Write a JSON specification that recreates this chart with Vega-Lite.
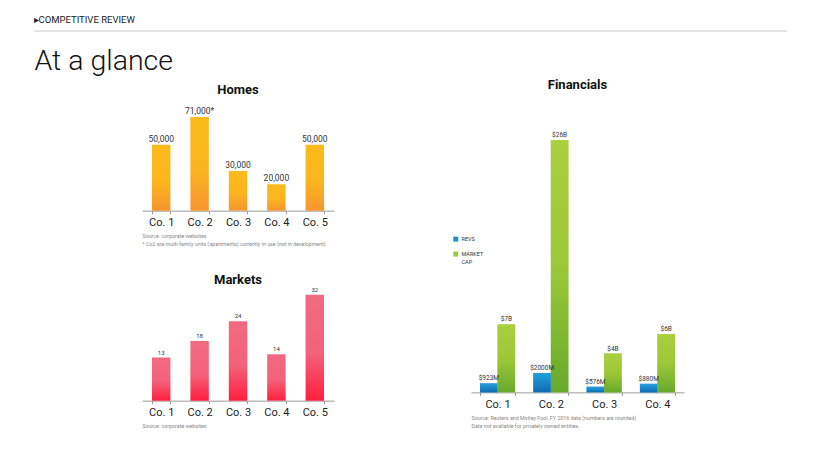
{
  "$schema": "https://vega.github.io/schema/vega-lite/v6.json",
  "background": "white",
  "padding": {"top": 14, "left": 33, "right": 0, "bottom": 0},
  "config": {
    "font": "Roboto",
    "view": {"stroke": null},
    "title": {"font": "Roboto", "color": "#111111"},
    "axis": {"grid": false},
    "axisX": {
      "domainColor": "#9a9a9a",
      "tickColor": "#9a9a9a",
      "tickSize": 3,
      "tickBand": "extent",
      "labelFontSize": 11,
      "labelColor": "#222222",
      "labelPadding": 3,
      "labelAngle": 0,
      "labelFont": "Roboto",
      "titleFont": "Roboto",
      "titleFontSize": 5.3,
      "titleFontWeight": "normal",
      "titleColor": "#888888",
      "titleAnchor": "start",
      "titlePadding": 6,
      "titleLineHeight": 8
    }
  },
  "datasets": {
    "homes": [
      {"co": "Co. 1", "v": 50000, "label": "50,000"},
      {"co": "Co. 2", "v": 71000, "label": "71,000*"},
      {"co": "Co. 3", "v": 30000, "label": "30,000"},
      {"co": "Co. 4", "v": 20000, "label": "20,000"},
      {"co": "Co. 5", "v": 50000, "label": "50,000"}
    ],
    "markets": [
      {"co": "Co. 1", "v": 13},
      {"co": "Co. 2", "v": 18},
      {"co": "Co. 3", "v": 24},
      {"co": "Co. 4", "v": 14},
      {"co": "Co. 5", "v": 32}
    ],
    "fin": [
      {"co": "Co. 1", "series": "REVS", "value": 0.923, "label": "$923M"},
      {"co": "Co. 1", "series": "MARKET CAP", "value": 7, "label": "$7B"},
      {"co": "Co. 2", "series": "REVS", "value": 2.0, "label": "$2000M"},
      {"co": "Co. 2", "series": "MARKET CAP", "value": 26, "label": "$26B"},
      {"co": "Co. 3", "series": "REVS", "value": 0.576, "label": "$576M"},
      {"co": "Co. 3", "series": "MARKET CAP", "value": 4, "label": "$4B"},
      {"co": "Co. 4", "series": "REVS", "value": 0.88, "label": "$880M"},
      {"co": "Co. 4", "series": "MARKET CAP", "value": 6, "label": "$6B"}
    ],
    "line": [{"a": 0, "b": 753}]
  },
  "center": true,
  "spacing": 4,
  "resolve": {"scale": {"color": "independent"}},
  "vconcat": [
    {
      "width": 758,
      "height": 1,
      "title": {"text": "▸COMPETITIVE REVIEW", "anchor": "start", "fontSize": 9.5, "fontWeight": "normal", "color": "#222222", "baseline": "alphabetic", "offset": -1.5},
      "data": {"name": "line"},
      "mark": {"type": "rule", "color": "#cccccc", "strokeWidth": 1},
      "encoding": {
        "x": {"field": "a", "type": "quantitative", "scale": {"domain": [0, 758]},
          "axis": {"title": "At a glance", "labels": false, "ticks": false, "domain": false, "grid": false, "titleFontSize": 28.5, "titleFontWeight": 300, "titleColor": "#111111", "titleAnchor": "start", "titlePadding": 14}},
        "x2": {"field": "b"},
        "y": {"datum": 1, "type": "quantitative", "scale": {"domain": [0, 1]}, "axis": null}
      }
    },
    {
      "spacing": 119,
      "center": true,
      "resolve": {"scale": {"color": "independent"}},
      "hconcat": [
        {
          "spacing": 27,
          "vconcat": [
            {
              "width": 192,
              "height": 105.6,
              "title": {"text": "Homes", "fontSize": 13, "fontWeight": "bold", "baseline": "alphabetic", "offset": -2},
              "data": {"name": "homes"},
              "encoding": {
                "x": {"field": "co", "type": "nominal", "sort": null, "scale": {"paddingInner": 0.52, "paddingOuter": 0.26},
                  "axis": {"title": ["Source: corporate websites", "* Co2 are multi-family units (apartments) currently in use (not in development)"]}},
                "y": {"field": "v", "type": "quantitative", "scale": {"domain": [0, 80000]}, "axis": null}
              },
              "layer": [
                {"mark": {"type": "bar", "color": {"gradient": "linear", "x1": 0, "y1": 0, "x2": 0, "y2": 1, "stops": [{"offset": 0, "color": "#FBBB1A"}, {"offset": 0.55, "color": "#FBB51E"}, {"offset": 1, "color": "#F7962F"}]}}},
                {"mark": {"type": "text", "baseline": "alphabetic", "dy": -3, "fontSize": 8.5, "color": "#333333"}, "encoding": {"text": {"field": "label"}}}
              ]
            },
            {
              "width": 192,
              "height": 112.6,
              "title": {"text": "Markets", "fontSize": 13, "fontWeight": "bold", "baseline": "alphabetic", "offset": -10.5},
              "data": {"name": "markets"},
              "encoding": {
                "x": {"field": "co", "type": "nominal", "sort": null, "scale": {"paddingInner": 0.52, "paddingOuter": 0.26},
                  "axis": {"title": ["Source: corporate websites", "\u00a0"], "titleLineHeight": 4}},
                "y": {"field": "v", "type": "quantitative", "scale": {"domain": [0, 34]}, "axis": null}
              },
              "layer": [
                {"mark": {"type": "bar", "color": {"gradient": "linear", "x1": 0, "y1": 0, "x2": 0, "y2": 1, "stops": [{"offset": 0, "color": "#F16A81"}, {"offset": 0.55, "color": "#F3627A"}, {"offset": 1, "color": "#FF1F3E"}]}}},
                {"mark": {"type": "text", "baseline": "alphabetic", "dy": -3, "fontSize": 6, "color": "#333333"}, "encoding": {"text": {"field": "v"}}}
              ]
            }
          ]
        },
        {
          "width": 213,
          "height": 291,
          "title": {"text": "Financials", "fontSize": 13, "fontWeight": "bold", "baseline": "alphabetic", "offset": -1},
          "data": {"name": "fin"},
          "encoding": {
            "x": {"field": "co", "type": "nominal", "sort": null, "scale": {"paddingInner": 0.343, "paddingOuter": 0.17},
              "axis": {"title": ["Source: Reuters and Motley Fool, FY 2016 data (numbers are rounded)", "Data not available for privately owned entities.", "\u00a0"]}},
            "xOffset": {"field": "series", "type": "nominal", "scale": {"domain": ["REVS", "MARKET CAP"], "paddingInner": 0, "paddingOuter": 0}},
            "y": {"field": "value", "type": "quantitative", "scale": {"domain": [0, 30]}, "axis": null}
          },
          "layer": [
            {
              "mark": "bar",
              "encoding": {
                "color": {"field": "series", "type": "nominal", "scale": {"domain": ["REVS", "MARKET CAP"], "range": ["#1E8FD5", "#9DCA3A"]},
                  "legend": {"title": null, "orient": "none", "legendX": -18, "legendY": 135, "symbolType": "square", "symbolSize": 25, "symbolStrokeWidth": 0, "labelFontSize": 5.5, "labelColor": "#333333", "labelFont": "Roboto", "labelExpr": "datum.label == 'MARKET CAP' ? ['MARKET', '\u00a0\u00a0\u00a0\u00a0CAP'] : datum.label", "rowPadding": 8, "labelOffset": 3, "padding": 0}}
              }
            },
            {
              "mark": "bar",
              "encoding": {
                "fill": {
                  "condition": {"test": "datum.series === 'REVS'", "value": {"gradient": "linear", "x1": 0, "y1": 0, "x2": 0, "y2": 1, "stops": [{"offset": 0, "color": "#23A0DD"}, {"offset": 1, "color": "#0E6CB3"}]}},
                  "value": {"gradient": "linear", "x1": 0, "y1": 0, "x2": 0, "y2": 1, "stops": [{"offset": 0, "color": "#AACF3C"}, {"offset": 0.5, "color": "#9CC838"}, {"offset": 1, "color": "#68A92D"}]}
                }
              }
            },
            {"mark": {"type": "text", "baseline": "alphabetic", "dy": -3, "fontSize": 6.5, "color": "#333333"}, "encoding": {"text": {"field": "label"}}}
          ]
        }
      ]
    }
  ]
}
